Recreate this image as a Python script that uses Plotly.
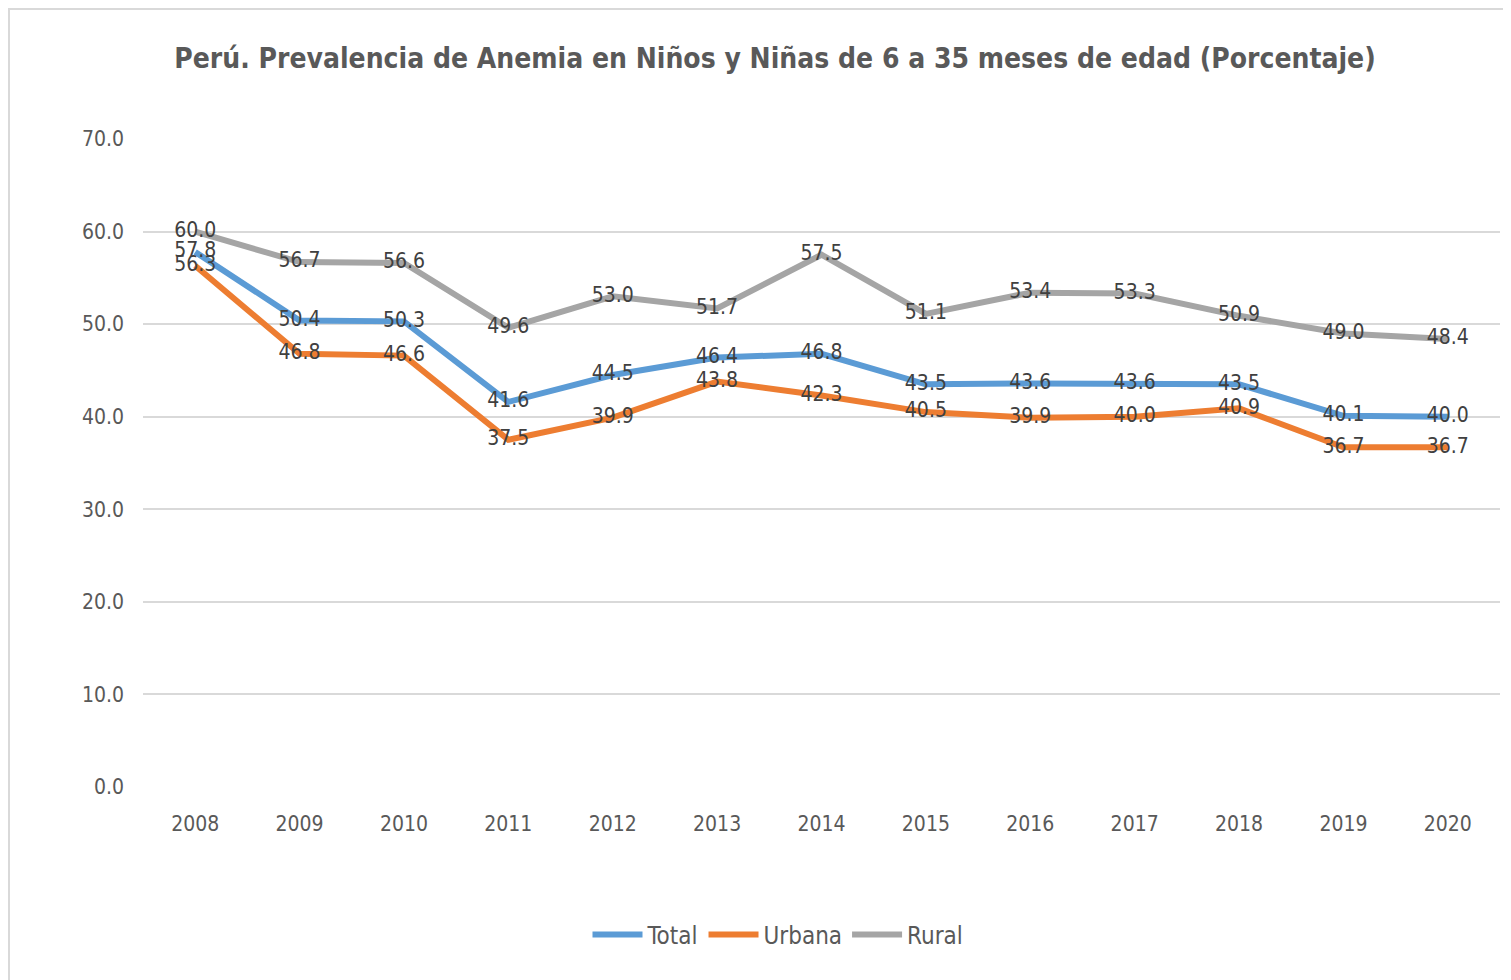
import plotly.graph_objects as go

years = ["2008", "2009", "2010", "2011", "2012", "2013", "2014", "2015", "2016", "2017", "2018", "2019", "2020"]
total = [57.8, 50.4, 50.3, 41.6, 44.5, 46.4, 46.8, 43.5, 43.6, 43.6, 43.5, 40.1, 40.0]
urbana = [56.3, 46.8, 46.6, 37.5, 39.9, 43.8, 42.3, 40.5, 39.9, 40.0, 40.9, 36.7, 36.7]
rural = [60.0, 56.7, 56.6, 49.6, 53.0, 51.7, 57.5, 51.1, 53.4, 53.3, 50.9, 49.0, 48.4]

FONT = "DejaVu Sans Condensed, Liberation Sans Narrow, sans-serif"
TXT = "#404040"
AX = "#595959"

series = [("Total", total, "#5B9BD5"), ("Urbana", urbana, "#ED7D31"), ("Rural", rural, "#A5A5A5")]

# body has an 8px margin in the page: plot area on screen x 143..1500, y 139..787
L, T = 135, 131
PW, PH = 1357, 648

fig = go.Figure()
for name, vals, col in series:
    fig.add_trace(go.Scatter(
        x=years, y=vals, name=name, mode="lines+text",
        line=dict(color=col, width=6),
        text=[f"{v:.1f}" for v in vals], textposition="middle center",
        textfont=dict(family=FONT, size=21, color=TXT),
        cliponaxis=False,
    ))

fig.update_layout(
    width=1511, height=980,
    margin=dict(l=L, r=1511 - L - PW, t=T, b=980 - T - PH),
    paper_bgcolor="white", plot_bgcolor="white",
    title=dict(text="<b>Perú. Prevalencia de Anemia en Niños y Niñas de 6 a 35 meses de edad (Porcentaje)</b>",
               x=767 / 1511, xanchor="center", y=1 - 50 / 980, yanchor="middle",
               font=dict(family=FONT, size=28, color=AX)),
    xaxis=dict(type="category", range=[-0.5, 12.5], showgrid=False, zeroline=False, showline=False,
               ticks="", ticklabelstandoff=22, tickfont=dict(family=FONT, size=21, color=AX)),
    yaxis=dict(range=[0, 70], dtick=10, tickformat=".1f", showgrid=True, gridcolor="#D9D9D9", gridwidth=2,
               zeroline=False, showline=False, ticks="", ticklabelstandoff=18,
               tickfont=dict(family=FONT, size=21, color=AX)),
    legend=dict(orientation="h", x=(770 - L) / PW, xanchor="center", y=(T + PH - 927) / PH, yanchor="middle",
                font=dict(family=FONT, size=24, color=AX), itemwidth=50, tracegroupgap=0),
    shapes=[
        dict(type="line", xref="paper", yref="paper",
             x0=(0.5 - L) / PW, x1=(0.5 - L) / PW, y0=(T + PH - 980) / PH, y1=(T + PH) / PH,
             line=dict(color="#D9D9D9", width=3), layer="below"),
        dict(type="line", xref="paper", yref="paper",
             x0=(0 - L) / PW, x1=(1511 - L) / PW, y0=(T + PH - 0.5) / PH, y1=(T + PH - 0.5) / PH,
             line=dict(color="#D9D9D9", width=3), layer="below"),
    ],
)

fig.write_html("out.html")
